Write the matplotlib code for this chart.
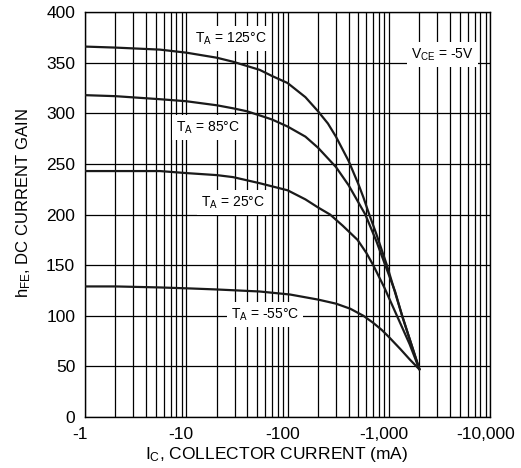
import matplotlib
matplotlib.use('Agg')
import matplotlib.pyplot as plt
import matplotlib.transforms as mtransforms
from matplotlib.ticker import LogLocator, NullFormatter

plt.rcParams['font.family'] = ['Liberation Sans', 'DejaVu Sans']
plt.rcParams['mathtext.default'] = 'regular'

# collector current (mA, magnitude) and DC current gain for each temperature
ic_125 = [1, 2, 5.5, 10, 20, 29, 53, 70, 100, 150, 200, 250, 300, 400, 500, 560, 635, 750, 955, 1150, 1350, 1650, 2000]
hfe_125 = [366, 365, 363, 360, 355, 351, 343, 337, 330, 316, 302, 290, 277, 253, 230, 217, 201, 181, 150, 123, 100, 73, 47]

ic_85 = [1, 2, 5.5, 10, 20, 29, 40, 53, 70, 100, 150, 200, 300, 400, 500, 585, 750, 920, 1150, 1350, 1650, 2000]
hfe_85 = [318, 317, 314, 312, 308, 305, 302, 298, 294, 287, 277, 266, 247, 229, 212, 200, 174, 150, 124, 100, 73, 47]

ic_25 = [1, 2, 5.5, 10, 20, 29, 53, 100, 150, 200, 263, 350, 490, 600, 700, 900, 1200, 1600, 2000]
hfe_25 = [243, 243, 243, 241, 239, 237, 231, 224, 215, 207, 200, 189, 175, 162, 150, 128, 100, 72, 47]

ic_m55 = [1, 2, 5.5, 11, 20, 53, 106, 200, 300, 415, 560, 700, 850, 1000, 1300, 1600, 2000]
hfe_m55 = [129, 129, 128, 127, 126, 124, 121, 116, 112, 107, 100, 93, 86, 79, 67, 57, 47]

x_ticks = [1, 10, 100, 1000, 10000]
x_tick_labels = ['-1', '-10', '-100', '-1,000', '-10,000']
y_ticks = [0, 50, 100, 150, 200, 250, 300, 350, 400]


def main():
    fig = plt.figure(figsize=(5.21, 4.68), dpi=100)
    ax = fig.add_axes([0.163, 0.109, 0.778, 0.865])

    for ic, hfe in [(ic_125, hfe_125), (ic_85, hfe_85), (ic_25, hfe_25), (ic_m55, hfe_m55)]:
        ax.plot(ic, hfe, color='#1a1a1a', linewidth=1.6, zorder=4,
                solid_capstyle='round', solid_joinstyle='round')

    ax.set_xscale('log')
    ax.set_xlim(1, 10000)
    ax.set_ylim(0, 400)
    ax.set_xticks(x_ticks, x_tick_labels)
    ax.xaxis.set_minor_locator(LogLocator(base=10, subs=range(2, 10)))
    ax.xaxis.set_minor_formatter(NullFormatter())
    ax.set_yticks(y_ticks)

    ax.xaxis.grid(True, which='both', color='black', linewidth=0.9)
    ax.yaxis.grid(True, which='major', color='black', linewidth=0.9)
    ax.set_axisbelow(True)
    ax.tick_params(which='both', length=0, labelsize=12.5, pad=7)
    shift = mtransforms.ScaledTranslation(-5 / 100, 0, fig.dpi_scale_trans)
    for lab in ax.get_xticklabels():
        lab.set_transform(lab.get_transform() + shift)
    for s in ax.spines.values():
        s.set_linewidth(1.0)

    ax.set_xlabel('I$_C$, COLLECTOR CURRENT (mA)', fontsize=12.5)
    ax.set_ylabel('h$_{FE}$, DC CURRENT GAIN', fontsize=12)
    ax.xaxis.set_label_coords(0.474, -0.07)
    ax.yaxis.set_label_coords(-0.128, 0.528)

    box = dict(facecolor='white', edgecolor='none', pad=3)
    kw = dict(fontsize=10, ha='center', va='center', bbox=box, zorder=3)
    ax.text(27.6, 374, 'T$_A$ = 125°C', **kw)
    ax.text(16.4, 286, 'T$_A$ = 85°C', **kw)
    ax.text(29, 212, 'T$_A$ = 25°C', **kw)
    ax.text(60, 101, 'T$_A$ = -55°C', **kw)
    ax.text(3380, 358, 'V$_{CE}$ = -5V', **kw)

    fig.savefig('out.png', dpi=100)


if __name__ == '__main__':
    main()
